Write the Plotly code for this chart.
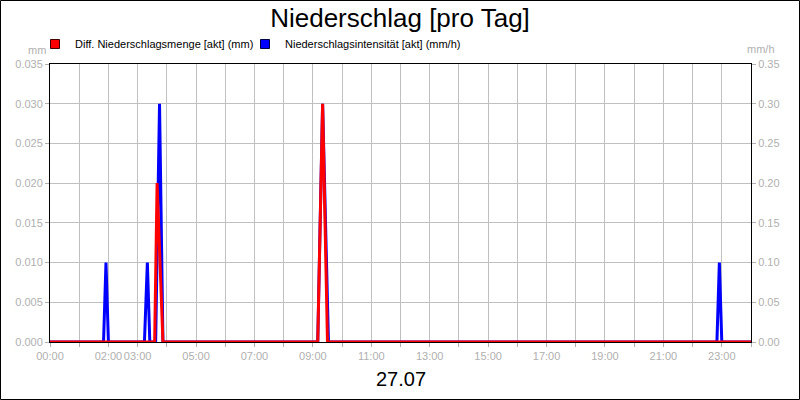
import plotly.graph_objects as go

# ---- data ----
red_times = ["00:00", "03:35", "03:40", "03:52", "09:10", "09:20", "09:30", "24:00"]
red_values = [0, 0, 0.02, 0, 0, 0.03, 0, 0]  # mm

blue_times = ["00:00", "01:50", "01:55", "02:00", "03:14", "03:20", "03:25", "03:37",
              "03:45", "03:52", "09:10", "09:20", "09:32", "22:50", "22:55", "23:00", "24:00"]
blue_values = [0, 0, 0.1, 0, 0, 0.1, 0, 0, 0.3, 0, 0, 0.3, 0, 0, 0.1, 0, 0]  # mm/h

hour_ticks = list(range(0, 25))
hour_labels = ["00:00", "", "02:00", "03:00", "", "05:00", "", "07:00", "", "09:00", "",
               "11:00", "", "13:00", "", "15:00", "", "17:00", "", "19:00", "", "21:00",
               "", "23:00", ""]
left_ticks = [0, 0.005, 0.01, 0.015, 0.02, 0.025, 0.03, 0.035]
right_ticks = [0, 0.05, 0.1, 0.15, 0.2, 0.25, 0.3, 0.35]

title_text = "Niederschlag [pro Tag]"
date_text = "27.07"
red_name = "Diff. Niederschlagsmenge [akt] (mm)"
blue_name = "Niederschlagsintensität [akt] (mm/h)"


def to_h(t):
    h, m = t.split(":")
    return int(h) + int(m) / 60.0


W, H = 800, 400
L, R, T, B = 50, 49, 64, 58
pw, ph = W - L - R, H - T - B

gray_txt = "#b0b0b0"
grid = "#c0c0c0"

fig = go.Figure()
# blue (mm/h) on base axis "y" (shown at right); red (mm) on overlaying "y2" (shown at left)
fig.add_trace(go.Scatter(x=[to_h(t) for t in blue_times], y=blue_values, yaxis="y",
                         mode="lines", line=dict(color="#0000ff", width=3),
                         showlegend=False, hoverinfo="skip"))
fig.add_trace(go.Scatter(x=[to_h(t) for t in red_times], y=red_values, yaxis="y2",
                         mode="lines", line=dict(color="#ff0000", width=3),
                         showlegend=False, hoverinfo="skip"))
# legend entries (square swatches), each in its own legend box
fig.add_trace(go.Scatter(x=[None], y=[None], mode="markers", name=red_name, legend="legend",
                         marker=dict(symbol="square", size=9, color="#ff0000",
                                     line=dict(color="#400000", width=1))))
fig.add_trace(go.Scatter(x=[None], y=[None], mode="markers", name=blue_name, legend="legend2",
                         marker=dict(symbol="square", size=9, color="#0000ff",
                                     line=dict(color="#000040", width=1))))

axis_font = dict(family="Liberation Sans, Arial, sans-serif", size=11, color=gray_txt)
leg_common = dict(orientation="h", xanchor="left", y=(H - B - 44) / ph, yanchor="middle",
                  font=dict(size=11, color="black"), bgcolor="rgba(0,0,0,0)",
                  itemwidth=30)

fig.update_layout(
    width=W, height=H,
    margin=dict(l=L, r=R, t=T, b=B, pad=0, autoexpand=False),
    paper_bgcolor="white", plot_bgcolor="white",
    font=dict(family="Liberation Sans, Arial, sans-serif", size=11, color="black"),
    title=dict(text=title_text, x=0.5, xanchor="center", y=1 - 18 / H, yanchor="middle",
               yref="container", font=dict(size=26, color="black")),
    xaxis=dict(range=[0, 24], tickmode="array", tickvals=hour_ticks, ticktext=hour_labels,
               tickangle=0,
               showgrid=True, gridcolor=grid, gridwidth=1, zeroline=False,
               showline=True, linecolor="black", linewidth=1, mirror=True,
               ticks="outside", ticklen=4, tickcolor=gray_txt, tickfont=axis_font),
    yaxis=dict(range=[0, 0.35], tickmode="array", tickvals=right_ticks, side="right",
               tickformat=".2f", showgrid=True, gridcolor=grid, gridwidth=1, zeroline=False,
               showline=True, linecolor="black", linewidth=1,
               ticks="outside", ticklen=4, tickcolor=gray_txt, tickfont=axis_font),
    yaxis2=dict(range=[0, 0.035], tickmode="array", tickvals=left_ticks,
                tickformat=".3f", overlaying="y", side="left", showgrid=False,
                zeroline=False, showline=True, linecolor="black", linewidth=1,
                ticks="outside", ticklen=4, tickcolor=gray_txt, tickfont=axis_font),
    legend=dict(x=(35 - L) / pw, **leg_common),
    legend2=dict(x=(245 - L) / pw, **leg_common),
    showlegend=True,
)

fig.add_annotation(text="mm", xref="paper", yref="paper", x=(48 - L) / pw, xanchor="right",
                   y=(H - B - 50) / ph, yanchor="middle", showarrow=False,
                   font=dict(size=11, color=gray_txt))
fig.add_annotation(text="mm/h", xref="paper", yref="paper", x=(777 - L) / pw, xanchor="right",
                   y=(H - B - 49) / ph, yanchor="middle", showarrow=False,
                   font=dict(size=11, color=gray_txt))
fig.add_annotation(text=date_text, xref="paper", yref="paper", x=0.5, xanchor="center",
                   y=(H - B - 379) / ph, yanchor="middle", showarrow=False,
                   font=dict(size=20, color="black"))

# outer frame
fig.add_shape(type="rect", xref="paper", yref="paper",
              x0=(0.5 - L) / pw, x1=(W - 0.5 - L) / pw,
              y0=(H - B - (H - 0.5)) / ph, y1=(H - B - 0.5) / ph,
              line=dict(color="black", width=1), fillcolor="rgba(0,0,0,0)", layer="above")

fig.write_html("out.html", config={"displayModeBar": False},
               post_script="document.body.style.margin='0';document.body.style.overflow='hidden';")
